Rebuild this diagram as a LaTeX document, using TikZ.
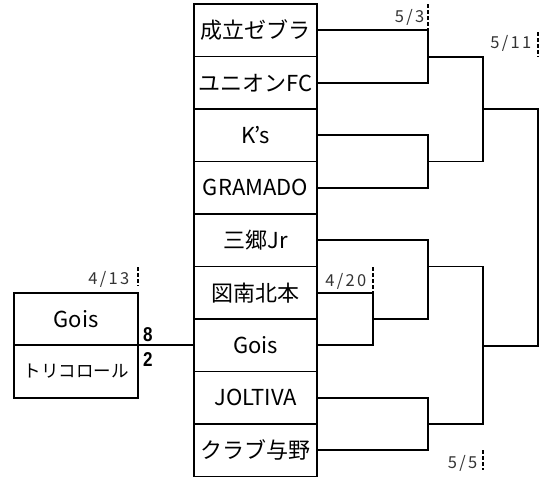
\documentclass[tikz,border=0pt]{standalone}
\usepackage{fontspec}
\setmainfont{Noto Sans CJK JP}
\newfontfamily\scorefont[FakeStretch=0.85]{Liberation Sans}
\newfontfamily\datefont[LetterSpace=14]{Noto Sans CJK JP}
\usetikzlibrary{positioning}

\begin{document}
\begin{tikzpicture}
            [x=1pt, y=-1pt,
             team/.style={draw, line width=1.6pt, outer sep=0pt, inner sep=0pt,
                          minimum width=123.5pt, minimum height=52.5pt,
                          font=\fontsize{22}{26}\selectfont},
             wire/.style={line width=1.6pt},
             datetick/.style={line width=1.6pt, dash pattern=on 4pt off 2pt},
             date/.style={anchor=base east, inner sep=0pt, text=black!80,
                          font=\datefont\fontsize{16.5}{19}\selectfont},
             score/.style={anchor=base west, inner sep=0pt,
                           font=\scorefont\bfseries\fontsize{20}{22}\selectfont}]
            \useasboundingbox (0,0) rectangle (552,479);

            \node[team] (t1) at (255.5,30.25) {成立ゼブラ};
            \node[team, below=0pt of t1] (t2) {ユニオンFC};
            \node[team, below=0pt of t2] (t3) {K’s};
            \node[team, below=0pt of t3] (t4) {GRAMADO};
            \node[team, below=0pt of t4] (t5) {三郷Jr};
            \node[team, below=0pt of t5] (t6) {図南北本};
            \node[team, below=0pt of t6] (t7) {Gois};
            \node[team, below=0pt of t7] (t8) {JOLTIVA};
            \node[team, below=0pt of t8] (t9) {クラブ与野};

            \node[team, minimum width=124pt] (l1) at (76,319) {Gois};
            \node[team, minimum width=124pt, below=0pt of l1,
                  font=\fontsize{17.5}{21}\selectfont] (l2) {トリコロール};

            \coordinate (j12) at (428,57);
            \coordinate (j34) at (428,161.5);
            \coordinate (j5) at (428,266.5);
            \coordinate (j67) at (373,319);
            \coordinate (j89) at (428,424);
            \coordinate (k1) at (483,109);
            \coordinate (k2) at (483,346);
            \coordinate (fin) at (538,200);

            \draw[wire] (t1.east) -| (j12) |- (t2.east);
            \draw[wire] (t3.east) -| (j34) |- (t4.east);
            \draw[wire] (t6.east) -| (j67) |- (t7.east);
            \draw[wire] (t5.east) -| (j5) |- (j67);
            \draw[wire] (t8.east) -| (j89) |- (t9.east);
            \draw[wire] (j12) -| (k1) |- (j34);
            \draw[wire] (j5) -| (k2) |- (j89);
            \draw[wire] (k1) -| (fin) |- (k2);
            \draw[wire] (l1.south east) -- (t7.west);

            \node[score] (s1) at (143,341.7) {8};
            \node[score] (s2) at (143,366.7) {2};

            \node[date] (d413) at (129.5,284.3) {4/13};
            \node[date] (d503) at (424.5,23) {5/3};
            \node[date] (d511) at (531.5,48) {5/11};
            \node[date] (d420) at (366.5,286.7) {4/20};
            \node[date] (d505) at (477.5,468) {5/5};
            \draw[datetick] (138,267) -- (138,286);
            \draw[datetick] (428,4) -- (428,29);
            \draw[datetick] (538,32) -- (538,57);
            \draw[datetick] (373,267) -- (373,292);
            \draw[datetick] (483,450) -- (483,470);

            % \draw[red] (0,0) grid[step=50] (552,479);
        \end{tikzpicture}
\end{document}
